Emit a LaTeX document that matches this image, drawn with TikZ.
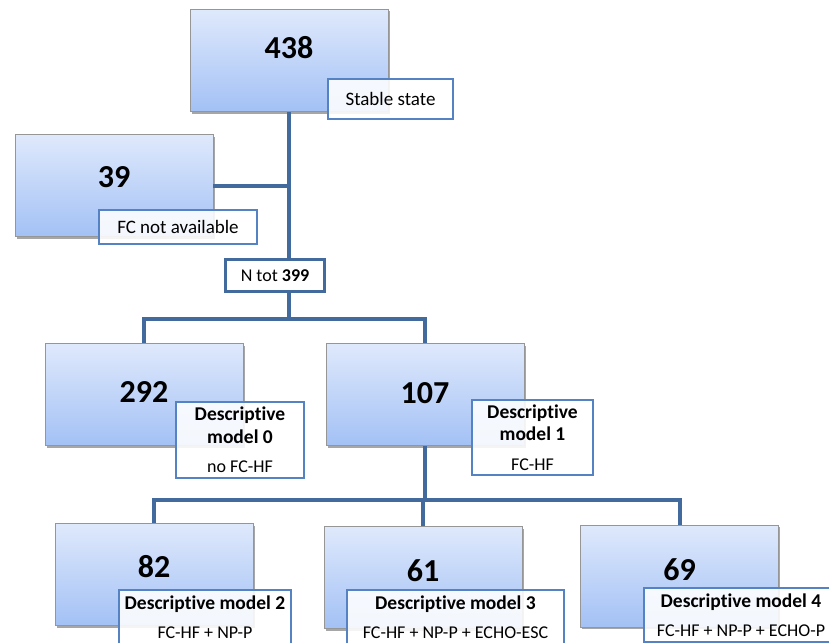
\documentclass[tikz,border=0pt]{standalone}
\usepackage{fontspec}
\setmainfont{Carlito}[Ligatures={NoCommon}]
\usetikzlibrary{shadows}
\usetikzlibrary{positioning}
\definecolor{trunkblue}{RGB}{66,106,156}
\definecolor{tagblue}{RGB}{84,130,195}
\definecolor{boxtop}{RGB}{223,233,252}
\definecolor{boxbot}{RGB}{163,193,245}
\definecolor{boxline}{RGB}{150,150,150}
\tikzset{
  numbox/.style={draw=boxline, line width=0.8pt, top color=boxtop, bottom color=boxbot,
    minimum width=198pt, minimum height=102pt,
    drop shadow={shadow xshift=1.5pt, shadow yshift=-2pt, opacity=.35, fill=black}},
  num/.style={font=\fontsize{32}{38}\selectfont\bfseries, inner sep=0pt},
  tag/.style 2 args={draw=tagblue, line width=1.1pt, fill=white, fill opacity=.88,
    text opacity=1, minimum width=#1pt, minimum height=#2pt, inner sep=0pt,
    align=center, font=\fontsize{19}{22}\selectfont},
  dmtag/.style 2 args={tag={#1}{#2}, font=\fontsize{19.5}{22.5}\selectfont},
  totbox/.style={draw=trunkblue, line width=3pt, fill=white, minimum width=99pt,
    minimum height=32pt, inner sep=0pt, font=\fontsize{18}{22}\selectfont},
  trunk/.style={draw=trunkblue, line width=4pt},
}
\newcommand{\dmsub}[1]{{\fontsize{18}{22}\selectfont #1}}
\begin{document}
\begin{tikzpicture}[x=1pt,y=-1pt]
    \useasboundingbox (0,0) rectangle (829,642);
    \clip (0,0) rectangle (829,642);
		% count boxes
		\node[numbox] (b438) at (289, 60.5) {};
		\node[numbox] (b39) at (114, 185.5) {};
		\node[numbox] (b292) at (144, 394.5) {};
		\node[numbox] (b107) at (425, 394.5) {};
		\node[numbox] (b82) at (154, 574.5) {};
		\node[numbox] (b61) at (423, 577.5) {};
		\node[numbox] (b69) at (679.5, 576) {};
		\node[num] (n438) at (289, 48) {438};
		\node[num] (n39) at (114, 177.5) {39};
		\node[num] (n292) at (144, 392.5) {292};
		\node[num] (n107) at (425, 393) {107};
		\node[num] (n82) at (154, 567) {82};
		\node[num] (n61) at (423, 570.5) {61};
		\node[num] (n69) at (679.5, 569.5) {69};
		% tree lines
		\coordinate (fork1) at (289, 319);
		\coordinate (fork2) at (425, 500);
		\node[totbox] (tot) at (275, 275.5) {N tot \textbf{399}};
		\draw[trunk] (b438.south) -- (b438.south |- tot.north);
		\draw[trunk] (b39.east) -- (b39.east -| b438.south);
		\draw[trunk] (b438.south |- tot.south) -- (fork1);
		\draw[trunk] (b292.north) |- (fork1) -| (b107.north);
		\draw[trunk] (b107.south) -- (fork2);
		\draw[trunk] (b82.north) |- (fork2) -| (b69.north);
		\draw[trunk] (fork2 -| b61.north) -- (b61.north);
		\node[totbox] (tot) at (275, 275.5) {N tot \textbf{399}};
		% labels
		\node[tag={125}{40}] (stab) at (390.5, 99) {Stable state};
		\node[tag={158}{34}] (fcna) at (178, 227) {FC not available};
		\node[dmtag={128}{76}] (dm0) at (240, 440) {\textbf{Descriptive}\\\textbf{model 0}\\[7pt]\dmsub{no FC-HF}};
		\node[dmtag={121}{75}] (dm1) at (532.5, 437.5) {\textbf{Descriptive}\\\textbf{model 1}\\[7pt]\dmsub{FC-HF}};
		\node[dmtag={172}{54}] (dm2) at (205, 617) {\textbf{Descriptive model 2}\\[6pt]\dmsub{FC-HF + NP-P}};
		\node[dmtag={217}{54}] (dm3) at (455.5, 617) {\textbf{Descriptive model 3}\\[6pt]\dmsub{FC-HF + NP-P + ECHO-ESC}};
		\node[dmtag={194}{54}] (dm4) at (741, 615) {\textbf{Descriptive model 4}\\[6pt]\dmsub{FC-HF + NP-P + ECHO-P}};
\end{tikzpicture}
\end{document}
